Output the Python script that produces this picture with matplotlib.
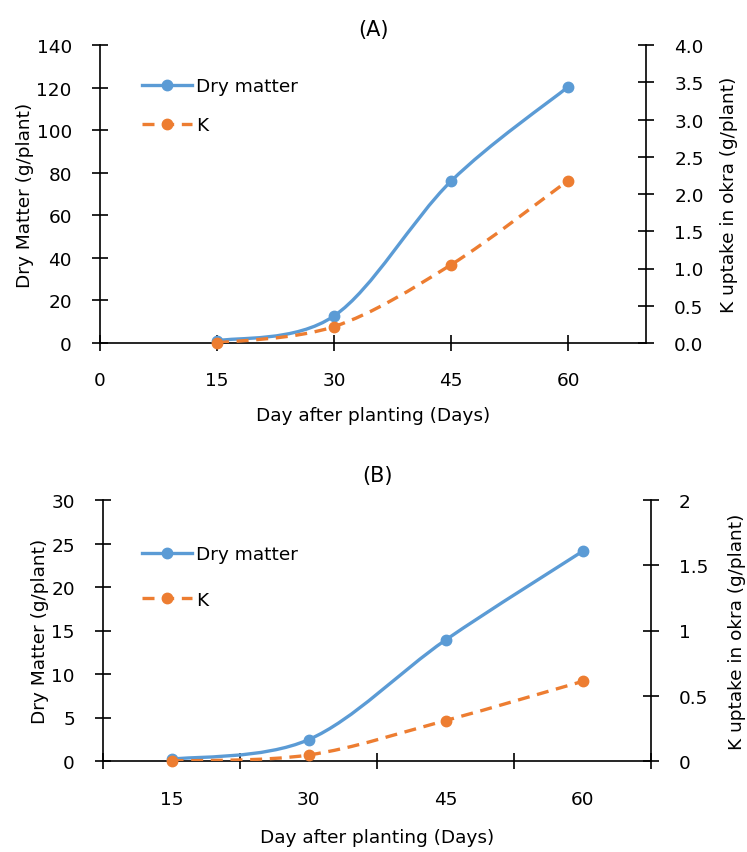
import matplotlib
matplotlib.use("Agg")
import matplotlib.pyplot as plt
from matplotlib.path import Path
from matplotlib.patches import PathPatch
from matplotlib.lines import Line2D

# panel A data (days after planting)
days_a = [15, 30, 45, 60]
dry_a = [1.0, 12.7, 76.0, 120.3]
k_a = [0.0, 0.22, 1.05, 2.18]

# panel B data (category axis)
days_b = ["15", "30", "45", "60"]
dry_b = [0.2, 2.45, 13.9, 24.1]
k_b = [0.0, 0.046, 0.31, 0.61]

BLUE = "#5B9BD5"
ORANGE = "#ED7D31"
FS = 13.3
LW = 2.4
MS = 7.5
DASH = (0, (3.6, 2.3))

plt.rcParams["font.family"] = ["DejaVu Sans"]


def smooth_path(xs, ys):
    # excel-like smoothed line: bezier segments through the points
    pts = list(zip(xs, ys))
    n = len(pts)
    verts = [pts[0]]
    codes = [Path.MOVETO]
    for i in range(n - 1):
        p0 = pts[i - 1] if i > 0 else pts[i]
        p1 = pts[i]
        p2 = pts[i + 1]
        p3 = pts[i + 2] if i + 2 < n else pts[i + 1]
        c1 = (p1[0] + (p2[0] - p0[0]) / 6, p1[1] + (p2[1] - p0[1]) / 6)
        c2 = (p2[0] - (p3[0] - p1[0]) / 6, p2[1] - (p3[1] - p1[1]) / 6)
        verts += [c1, c2, p2]
        codes += [Path.CURVE4] * 3
    return Path(verts, codes)


def draw_series(ax, xs, ys, color, ls):
    ax.add_patch(PathPatch(smooth_path(xs, ys), fill=False, edgecolor=color,
                           lw=LW, linestyle=ls, capstyle="butt", zorder=3))
    ax.plot(xs, ys, "o", color=color, ms=MS, zorder=4, clip_on=False)


def style(ax):
    ax.spines["top"].set_visible(False)
    for s in ax.spines.values():
        s.set_linewidth(1.2)
    ax.tick_params(direction="inout", length=11.5, width=1.2, labelsize=FS, pad=14.5)


fig = plt.figure(figsize=(7.47, 8.53), dpi=100)
W, H = 747, 853


def add_axes(l, t, r, b):
    return fig.add_axes([l / W, 1 - b / H, (r - l) / W, (b - t) / H])


# ---------- panel A ----------
ax = add_axes(100, 46, 646, 344)
ax2 = ax.twinx()
draw_series(ax, days_a, dry_a, BLUE, "-")
draw_series(ax2, days_a, k_a, ORANGE, DASH)
ax.set_xlim(0, 70)
ax.set_ylim(0, 140)
ax2.set_ylim(0, 4)
ax.set_xticks([0, 15, 30, 45, 60])
ax.set_yticks(range(0, 141, 20))
ax2.set_yticks([0, 0.5, 1, 1.5, 2, 2.5, 3, 3.5, 4])
ax2.set_yticklabels(["%.1f" % v for v in ax2.get_yticks()])
style(ax)
style(ax2)
ax.spines["right"].set_visible(False)
ax2.spines["left"].set_visible(False)
ax2.spines["bottom"].set_visible(False)
ax.set_ylabel("Dry Matter (g/plant)", fontsize=FS, labelpad=1.5)
ax2.set_ylabel("K uptake in okra (g/plant)", fontsize=FS, labelpad=11.5)
ax.set_xlabel("Day after planting (Days)", fontsize=FS, labelpad=12)
ax.set_title("(A)", fontsize=15, pad=7)

# ---------- panel B ----------
bx = add_axes(103, 501, 651, 762)
bx2 = bx.twinx()
pos = list(range(len(days_b)))
draw_series(bx, pos, dry_b, BLUE, "-")
draw_series(bx2, pos, k_b, ORANGE, DASH)
bx.set_xlim(-0.5, len(days_b) - 0.5)
bx.set_ylim(0, 30)
bx2.set_ylim(0, 2)
bx.set_xticks([p - 0.5 for p in range(len(days_b) + 1)])
bx.set_xticklabels([])
bx.set_xticks(pos, minor=True)
bx.set_xticklabels(days_b, minor=True)
bx.set_yticks(range(0, 31, 5))
bx2.set_yticks([0, 0.5, 1, 1.5, 2])
bx2.set_yticklabels(["0", "0.5", "1", "1.5", "2"])
style(bx)
style(bx2)
bx.tick_params(axis="x", which="minor", length=0, labelsize=FS, pad=21)
bx.spines["right"].set_visible(False)
bx2.spines["left"].set_visible(False)
bx2.spines["bottom"].set_visible(False)
bx.set_ylabel("Dry Matter (g/plant)", fontsize=FS, labelpad=1.5)
bx2.set_ylabel("K uptake in okra (g/plant)", fontsize=FS, labelpad=14)
bx.set_xlabel("Day after planting (Days)", fontsize=FS, labelpad=14)
bx.set_title("(B)", fontsize=15, pad=14)

handles = [
    Line2D([], [], color=BLUE, lw=LW, marker="o", ms=MS),
    Line2D([], [], color=ORANGE, lw=LW, ls=DASH, marker="o", ms=MS),
]
for a, top, sp in [(ax2, 78, 1.15), (bx2, 546, 1.5)]:
    a.legend(handles, ["Dry matter", "K"], loc="upper left",
             bbox_to_anchor=(142 / W, 1 - top / H), bbox_transform=fig.transFigure,
             frameon=False, fontsize=FS, handlelength=2.7, handletextpad=0.25,
             labelspacing=sp, borderpad=0, borderaxespad=0)

fig.savefig("out.png", dpi=100)
